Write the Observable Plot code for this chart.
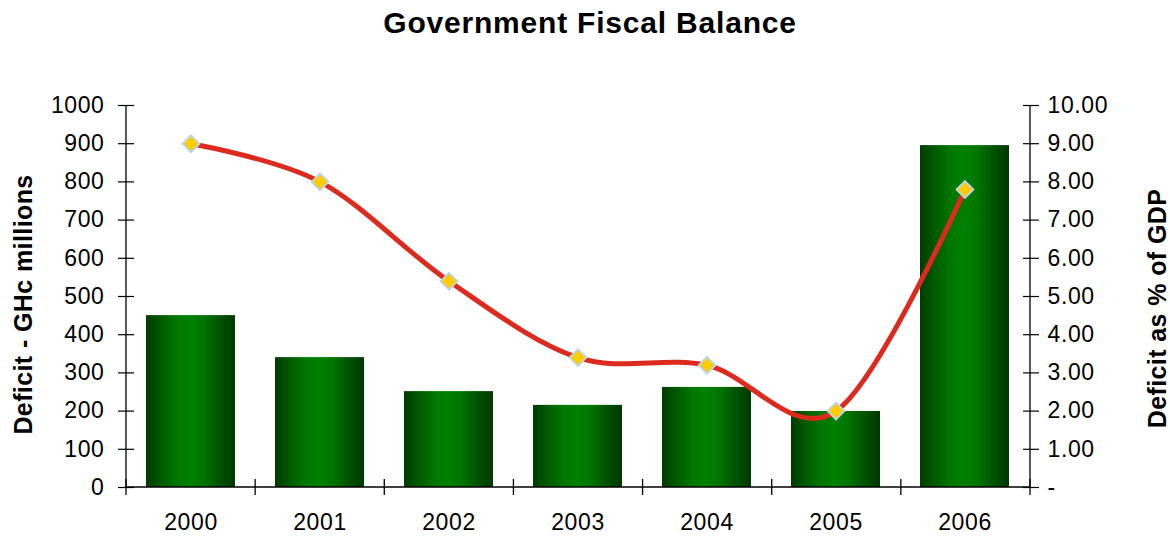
<!DOCTYPE html>
<html><head><meta charset="utf-8">
<script src="https://cdn.jsdelivr.net/npm/d3@7"></script>
<script src="https://cdn.jsdelivr.net/npm/@observablehq/plot@0.6"></script>
<style>
body{margin:0;background:#fff;font-family:"Liberation Sans",Arial,sans-serif;}
#title{height:50px;text-align:center;font-weight:bold;font-size:30px;letter-spacing:0.8px;line-height:46px;padding-left:10px;color:#000;}
#chart svg g[aria-label$="tick label"] text{letter-spacing:0.6px;}
#chart svg g.axis-title text{letter-spacing:0.4px;}
</style></head><body>
<div id="title">Government Fiscal Balance</div>
<div id="chart"></div>
<script>
const years = ["2000", "2001", "2002", "2003", "2004", "2005", "2006"];
const deficitMillions = [450, 340, 251, 215, 262, 199, 895];
const deficitPctGDP = [9.0, 8.0, 5.4, 3.4, 3.2, 2.0, 7.8];
const leftTicks = [0, 100, 200, 300, 400, 500, 600, 700, 800, 900, 1000];
const rightTickLabels = ["-", "1.00", "2.00", "3.00", "4.00", "5.00", "6.00", "7.00", "8.00", "9.00", "10.00"];
const leftTitle = "Deficit - GHc millions";
const rightTitle = "Deficit as % of GDP";

const data = years.map((y, i) => ({year: y, value: deficitMillions[i], pct: deficitPctGDP[i]}));

function gradientDefs() {
  const defs = d3.create("svg:defs");
  const g = defs.append("linearGradient").attr("id", "barGrad").attr("x1", "0%").attr("x2", "100%").attr("y1", "0%").attr("y2", "0%");
  [[0, "#003c00"], [0.15, "#005800"], [0.35, "#007800"], [0.5, "#008000"], [0.65, "#007400"], [0.85, "#004f00"], [1, "#003800"]]
    .forEach(([o, c]) => g.append("stop").attr("offset", o).attr("stop-color", c));
  return defs.node();
}

function axisLines(index, scales, values, dims) {
  const {width, height, marginLeft, marginRight, marginTop, marginBottom} = dims;
  const x0 = marginLeft, x1 = width - marginRight, yb = height - marginBottom, yt = marginTop;
  const g = d3.create("svg:g").attr("stroke", "#000").attr("stroke-width", 1.3).attr("fill", "none");
  g.append("line").attr("x1", x0).attr("x2", x0).attr("y1", yt).attr("y2", yb);
  g.append("line").attr("x1", x1).attr("x2", x1).attr("y1", yt).attr("y2", yb);
  g.append("line").attr("x1", x0).attr("x2", x1).attr("y1", yb).attr("y2", yb);
  const n = years.length;
  for (let i = 0; i <= n; i++) {
    const xx = x0 + (x1 - x0) * i / n;
    g.append("line").attr("x1", xx).attr("x2", xx).attr("y1", yb - 8).attr("y2", yb + 8);
  }
  return g.node();
}

const plot = Plot.plot({
  width: 1170,
  height: 486,
  marginTop: 55,
  marginBottom: 49,
  marginLeft: 126,
  marginRight: 140,
  style: {fontFamily: "Liberation Sans, Arial, sans-serif", fontSize: "23px", background: "#fff", color: "#000", overflow: "visible"},
  x: {domain: years, paddingInner: 0.31, paddingOuter: 0.155, label: null},
  y: {domain: [0, 1000], label: null},
  marks: [
    gradientDefs,
    Plot.barY(data, {x: "year", y: "value", fill: "url(#barGrad)"}),
    axisLines,
    Plot.line(data, {x: "year", y: d => d.pct * 100, curve: "cardinal", stroke: "#dc2a1e", strokeWidth: 5}),
    Plot.dot(data, {x: "year", y: d => d.pct * 100, symbol: "diamond2", r: 7.6, fill: "#ffcc00", stroke: "#b9d5ec", strokeWidth: 1.8}),
    Plot.axisY({anchor: "left", ticks: leftTicks, tickSize: 16, dx: 8, tickPadding: 14, tickFormat: d => String(d), label: null, strokeWidth: 1.2, fontSize: 23}),
    Plot.axisY({anchor: "right", ticks: leftTicks, tickSize: 16, dx: -8, tickPadding: 9, tickFormat: (d, i) => rightTickLabels[i], label: null, textAnchor: "start", strokeWidth: 1.2, fontSize: 23}),
    Plot.axisX({anchor: "bottom", tickSize: 0, tickPadding: 26, label: null, fontSize: 23}),
    Plot.text([leftTitle], {frameAnchor: "left", textAnchor: "middle", lineAnchor: "middle", rotate: -90, dx: -103, dy: 8, fontSize: 25, fontWeight: "bold", className: "axis-title"}),
    Plot.text([rightTitle], {frameAnchor: "right", textAnchor: "middle", lineAnchor: "middle", rotate: -90, dx: 127, dy: 12, fontSize: 25, fontWeight: "bold", className: "axis-title"})
  ]
});
document.getElementById("chart").appendChild(plot);
</script>
</body></html>
